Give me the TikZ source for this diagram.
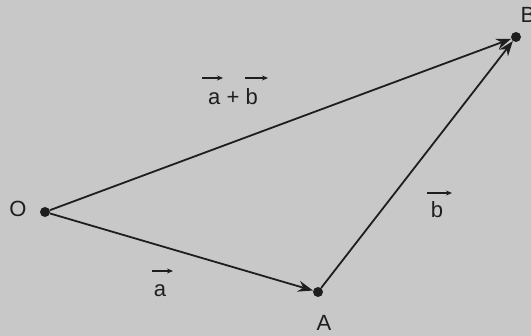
\documentclass[tikz,border=0pt]{standalone}
\usepackage{fontspec}
\setmainfont{Liberation Sans}
\usetikzlibrary{arrows.meta}
\definecolor{bg}{RGB}{200,200,200}
\definecolor{ink}{RGB}{30,30,30}
\begin{document}
\begin{tikzpicture}[x=1pt,y=1pt,
  dot/.style={circle,fill=ink,draw=none,minimum size=10pt,inner sep=0pt},
  vec/.style={draw=ink,line width=1.8pt,-{Stealth[length=15pt,width=11pt]}},
  overarr/.style={draw=ink,line width=1.3pt,-{Stealth[length=6pt,width=5pt]}},
  lab/.style={text=ink,font=\fontsize{22}{24}\selectfont,inner sep=0pt}]
\fill[bg] (0,0) rectangle (531,336);
\useasboundingbox (0,0) rectangle (531,336);
\node[dot] (O) at (45,124) {};
\node[dot] (A) at (318,44) {};
\node[dot] (B) at (516,299) {};
\node[lab,anchor=base] (lO) at (18,119) {O};
\node[lab,anchor=base] (lA) at (324,5) {A};
\node[lab,anchor=base] (lB) at (528,313) {B};
\draw[vec] (O) -- (A);
\draw[vec] (A) -- (B);
\draw[vec] (O) -- (B);
\node[lab,anchor=base] (la) at (160,39) {a};
\draw[overarr] ([shift={(-8,26)}]la.base) -- ([shift={(13,26)}]la.base);
\node[lab,anchor=base] (lb) at (437,118) {b};
\draw[overarr] ([shift={(-10,25)}]lb.base) -- ([shift={(15,25)}]lb.base);
\node[lab,anchor=base] (lab) at (233,231) {a + b};
\draw[overarr] ([shift={(-31,27)}]lab.base) -- ([shift={(-10,27)}]lab.base);
\draw[overarr] ([shift={(12,27)}]lab.base) -- ([shift={(35,27)}]lab.base);
\end{tikzpicture}
\end{document}
